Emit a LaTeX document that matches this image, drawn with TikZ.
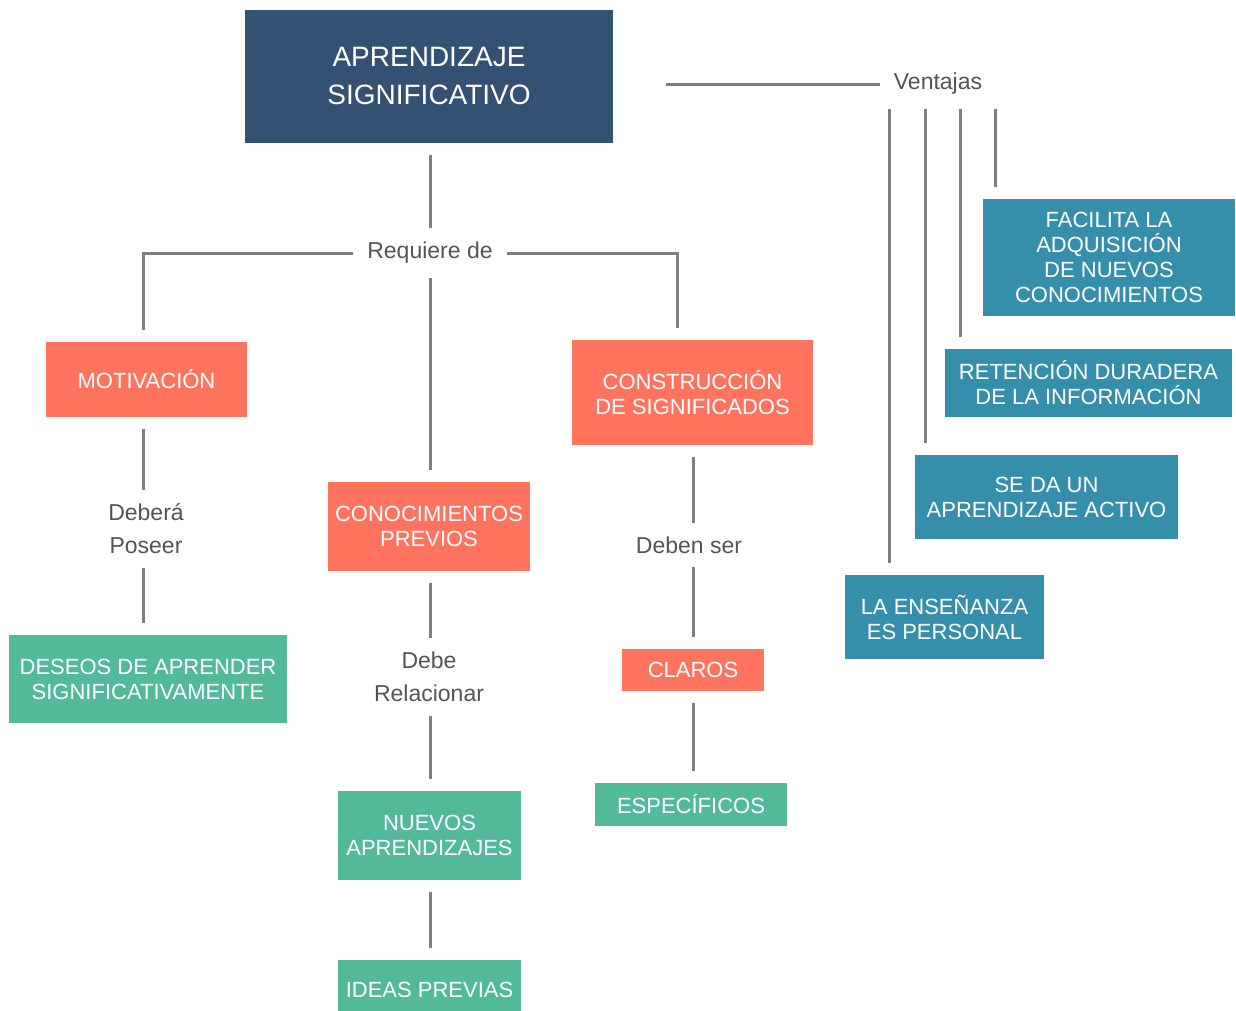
\documentclass[tikz,border=0pt]{standalone}
\usepackage{fontspec}
\setmainfont{Liberation Sans}
\usepackage{tikz}

\definecolor{navyc}{HTML}{345073}
\definecolor{coralc}{HTML}{FF735F}
\definecolor{greenc}{HTML}{52BA98}
\definecolor{tealc}{HTML}{368FAA}
\definecolor{linec}{HTML}{7F7F7F}
\definecolor{labelc}{HTML}{545454}

\begin{document}
\begin{tikzpicture}[x=1pt,y=-1pt]
\tikzstyle{box}=[rectangle, inner sep=0pt, outer sep=12pt, align=center, text=white, font=\fontsize{22}{25}\selectfont]
\tikzstyle{boxnavy}=[box, fill=navyc, font=\fontsize{28}{38}\selectfont]
\tikzstyle{boxcoral}=[box, fill=coralc]
\tikzstyle{boxgreen}=[box, fill=greenc]
\tikzstyle{boxteal}=[box, fill=tealc]
\tikzstyle{lbl}=[inner sep=0pt, outer sep=14pt, align=center, text=labelc, font=\fontsize{23}{33}\selectfont]
\tikzstyle{link}=[draw=linec, line width=3pt]

\useasboundingbox (0,0) rectangle (1236,1010);
\clip (0,0) rectangle (1236,1010);

% main concept
\node[boxnavy, minimum width=368, minimum height=133] (apr) at (429,76.5) {APRENDIZAJE\\SIGNIFICATIVO};
\node[lbl] (vent) at (938,84) {Ventajas};
\node[lbl] (req) at (430,253) {Requiere de};

% requirements
\node[boxcoral, minimum width=201, minimum height=75] (mot) at (146.5,379.5) {MOTIVACIÓN};
\node[boxcoral, minimum width=241, minimum height=105] (con) at (692.5,392.5) {CONSTRUCCIÓN\\DE SIGNIFICADOS};
\node[boxcoral, minimum width=202, minimum height=89] (prev) at (429,526.5) {CONOCIMIENTOS\\PREVIOS};

\node[lbl] (debp) at (146,529) {Deberá\\Poseer};
\node[boxgreen, minimum width=278, minimum height=88] (des) at (148,679) {DESEOS DE APRENDER\\SIGNIFICATIVAMENTE};

\node[lbl] (debr) at (429,677) {Debe\\Relacionar};
\node[boxgreen, minimum width=183, minimum height=89] (nue) at (429.5,835.5) {NUEVOS\\APRENDIZAJES};
\node[boxgreen, minimum width=183, minimum height=60] (ide) at (429.5,990) {IDEAS PREVIAS};

\node[lbl] (dser) at (689,545) {Deben ser};
\node[boxcoral, minimum width=142, minimum height=42] (cla) at (693,670) {CLAROS};
\node[boxgreen, minimum width=192, minimum height=43] (esp) at (691,804.5) {ESPECÍFICOS};

% advantages
\node[boxteal, minimum width=252, minimum height=117] (fac) at (1109,257.5) {FACILITA LA\\ADQUISICIÓN\\DE NUEVOS\\CONOCIMIENTOS};
\node[boxteal, minimum width=287, minimum height=68] (ret) at (1088.5,383) {RETENCIÓN DURADERA\\DE LA INFORMACIÓN};
\node[boxteal, minimum width=263, minimum height=84] (sed) at (1046.5,497) {SE DA UN\\APRENDIZAJE ACTIVO};
\node[boxteal, minimum width=199, minimum height=84] (ens) at (944.5,617) {LA ENSEÑANZA\\ES PERSONAL};

% connectors
\draw[link] (req.north |- apr.south) -- (req.north);
\draw[link] (req.west) -| ([xshift=-3pt]mot.north);
\draw[link] (req.east) -| ([xshift=-15pt]con.north);
\draw[link] (req.south) -- (req.south |- prev.north);
\draw[link] ([xshift=-3pt]mot.south) -- ([xshift=-3pt]mot.south |- debp.north);
\draw[link] ([xshift=-3pt]mot.south |- debp.south) -- ([xshift=-3pt]mot.south |- des.north);
\draw[link] (req.south |- prev.south) -- (req.south |- debr.north);
\draw[link] (req.south |- debr.south) -- (req.south |- nue.north);
\draw[link] (req.south |- nue.south) -- (req.south |- ide.north);
\draw[link] ([xshift=1pt]con.south) -- ([xshift=1pt]con.south |- dser.north);
\draw[link] ([xshift=1pt]con.south |- dser.south) -- ([xshift=1pt]con.south |- cla.north);
\draw[link] ([xshift=1pt]con.south |- cla.south) -- ([xshift=1pt]con.south |- esp.north);
\draw[link, shorten <=41pt] (apr.east |- vent.west) -- (vent.west);
\foreach \dx/\tgt in {-49/ens, -13/sed, 22/ret, 57/fac}
  \draw[link] ([xshift=\dx pt]vent.south) -- ([xshift=\dx pt]vent.south |- \tgt.north);

\end{tikzpicture}
\end{document}
